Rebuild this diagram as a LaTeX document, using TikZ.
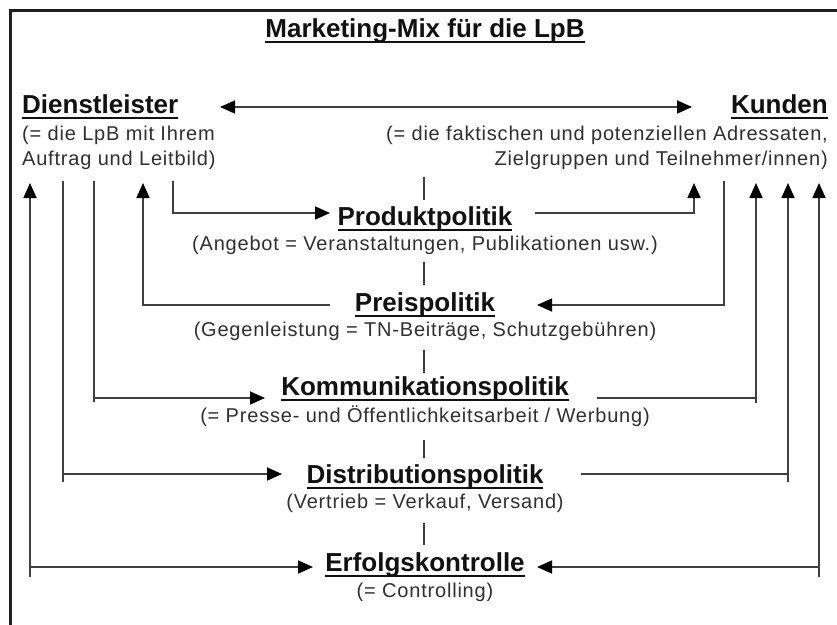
\documentclass[tikz,border=0pt]{standalone}
\usepackage{fontspec}
\setmainfont{Liberation Sans}
\usetikzlibrary{arrows.meta}
\definecolor{linec}{HTML}{404040}
\definecolor{subc}{HTML}{303030}
\definecolor{headc}{HTML}{111111}
\newcommand\ulhead[1]{\setbox0\hbox{#1}\rlap{\rule[-6pt]{\wd0}{2pt}}\box0}
\tikzset{
  head/.style={inner sep=0pt, text=headc, font=\fontsize{26}{30}\selectfont\bfseries},
  subtxt/.style={inner sep=0pt, text=subc, font=\fontsize{20}{25}\selectfont\addfontfeatures{LetterSpace=4}},
  conn/.style={draw=linec, line width=1.7pt},
  arr/.style={conn, -{Triangle[length=15pt,width=13pt,color=black]}},
  arrtwo/.style={conn, {Triangle[length=15pt,width=13pt,color=black]}-{Triangle[length=15pt,width=13pt,color=black]}},
  seg/.style={draw=linec, line width=1.7pt},
}
\begin{document}
\begin{tikzpicture}[x=1pt,y=-1pt]
\useasboundingbox (0,0) rectangle (837,624);
\fill[white] (0,0) rectangle (837,624);
\draw[line width=3pt, draw=black!88] (10,630) -- (10,10.5) -- (845,10.5);

% texts
\node[head, anchor=base] (title) at (425,37) {\ulhead{Marketing-Mix für die LpB}};
\node[head, anchor=base west] (dl) at (22,113) {\ulhead{Dienstleister}};
\node[subtxt, anchor=base west] (dlsubA) at (22,140) {(= die LpB mit Ihrem};
\node[subtxt, anchor=base west] (dlsubB) at (22,165) {Auftrag und Leitbild)};
\node[head, anchor=base east] (ku) at (828,113) {\ulhead{Kunden}};
\node[subtxt, anchor=base east] (kusubA) at (828,140) {(= die faktischen und potenziellen Adressaten,};
\node[subtxt, anchor=base east] (kusubB) at (828,165) {Zielgruppen und Teilnehmer/innen)};

\node[head, anchor=base] (prod) at (425,225) {\ulhead{Produktpolitik}};
\node[subtxt, anchor=base] (prodsub) at (425,250) {(Angebot = Veranstaltungen, Publikationen usw.)};
\node[head, anchor=base] (preis) at (425,311) {\ulhead{Preispolitik}};
\node[subtxt, anchor=base] (preissub) at (425,336) {(Gegenleistung = TN-Beiträge, Schutzgebühren)};
\node[head, anchor=base] (komm) at (425,395) {\ulhead{Kommunikationspolitik}};
\node[subtxt, anchor=base] (kommsub) at (425,422) {(= Presse- und Öffentlichkeitsarbeit / Werbung)};
\node[head, anchor=base] (dist) at (425,483) {\ulhead{Distributionspolitik}};
\node[subtxt, anchor=base] (distsub) at (425,508) {(Vertrieb = Verkauf, Versand)};
\node[head, anchor=base] (erf) at (425,571) {\ulhead{Erfolgskontrolle}};
\node[subtxt, anchor=base] (erfsub) at (425,597) {(= Controlling)};

% coordinates of connector ends
\coordinate (tL) at (220,107); \coordinate (tR) at (692,107);
\coordinate (a1) at (30,183); \coordinate (a1b) at (30,577); \coordinate (a1c) at (30,567); \coordinate (eL) at (313,567);
\coordinate (a2) at (63,181); \coordinate (a2b) at (63,482); \coordinate (a2c) at (63,474); \coordinate (dL) at (282,474);
\coordinate (a3) at (94,181); \coordinate (a3b) at (94,402); \coordinate (a3c) at (94,398); \coordinate (kL) at (265,398);
\coordinate (a4) at (143,183); \coordinate (pzL) at (330,305);
\coordinate (a5) at (173,181); \coordinate (pL) at (330,213);
\coordinate (b1) at (694,183); \coordinate (pR) at (535,213);
\coordinate (b2) at (724,181); \coordinate (pzR) at (537,305);
\coordinate (b3) at (756,183); \coordinate (b3b) at (756,403); \coordinate (b3c) at (756,398); \coordinate (kR) at (597,398);
\coordinate (b4) at (788,183); \coordinate (b4b) at (788,482); \coordinate (b4c) at (788,474); \coordinate (dR) at (581,474);
\coordinate (b5) at (819,183); \coordinate (b5b) at (819,577); \coordinate (b5c) at (819,567); \coordinate (eR) at (537,567);

% connectors
\draw[arrtwo] (tL) -- (tR);
\draw[arr] (a1b) -- (a1);
\draw[arr] (a1c) -- (eL);
\draw[arr] (a2) -- (a2b) (a2c) -- (dL);
\draw[arr] (a3) -- (a3b) (a3c) -- (kL);
\draw[arr] (pzL) -| (a4);
\draw[arr] (a5) |- (pL);
\draw[arr] (pR) -| (b1);
\draw[arr] (b2) |- (pzR);
\draw[arr] (b3b) -- (b3c) (kR) -| (b3);
\draw[arr] (b4b) -- (b4c) (dR) -| (b4);
\draw[arr] (b5c) -- (eR);
\draw[arr] (b5b) -- (b5);

% central short segments
\coordinate (s1a) at (424,177); \coordinate (s1b) at (424,200);
\coordinate (s2a) at (424,262); \coordinate (s2b) at (424,285);
\coordinate (s3a) at (424,350); \coordinate (s3b) at (424,373);
\coordinate (s4a) at (424,440); \coordinate (s4b) at (424,458);
\coordinate (s5a) at (424,523); \coordinate (s5b) at (424,545);
\draw[seg] (s1a) -- (s1b);
\draw[seg] (s2a) -- (s2b);
\draw[seg] (s3a) -- (s3b);
\draw[seg] (s4a) -- (s4b);
\draw[seg] (s5a) -- (s5b);
\end{tikzpicture}
\end{document}
